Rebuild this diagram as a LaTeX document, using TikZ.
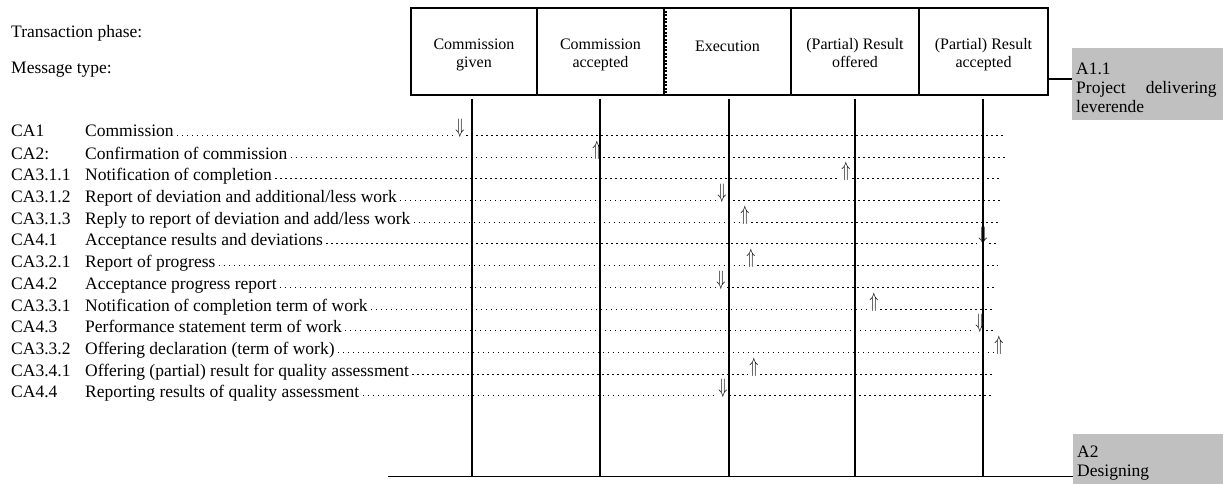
\documentclass[tikz,border=0pt]{standalone}
\usepackage{fontspec}
\setmainfont{Liberation Serif}
\usepackage{graphicx}
\usetikzlibrary{calc}
\definecolor{boxgray}{HTML}{C0C0C0}
\tikzset{
  rowtxt/.style={anchor=base west, inner sep=0pt, font=\fontsize{17.5}{21}\selectfont},
  boxtxt/.style={anchor=base, inner sep=0pt, font=\fontsize{16}{18}\selectfont},
  phasebox/.style={draw, line width=1.3pt, minimum height=87pt, inner sep=0pt},
  graybox/.style={fill=boxgray, inner sep=0pt, anchor=north west},
  graytxt/.style={anchor=base west, inner sep=0pt, font=\fontsize{17.5}{19}\selectfont},
  lifeline/.style={line width=1.4pt},
  leader/.style={line width=1.5pt, dash pattern=on 1.5pt off 3.5pt},
  arrtxt/.style={anchor=south, inner sep=0pt, font=\fontsize{19.5}{21}\selectfont},
}
% one message row: index, code, description, arrow symbol, arrow x, end of leader
\newcommand\msgrow[6]{%
  \pgfmathsetmacro\rowy{round(137+21.7*#1)}%
  \node[rowtxt] (lab#1) at (11,\rowy) {#2};
  \node[rowtxt] (msg#1) at (85,\rowy) {#3};
  \node[arrtxt] (arr#1) at (#5,{\rowy+0.5}) {\scalebox{0.72}[1]{$#4$}};
  \coordinate (dA#1) at ({#5-6},{\rowy-1.5});
  \coordinate (dB#1) at ({#5+6},{\rowy-1.5});
  \coordinate (dE#1) at (#6,{\rowy-1.5});
  \draw[leader] ([xshift=3pt,yshift=1.5pt]msg#1.base east) -- (dA#1);
  \ifdim #6pt>#5pt \draw[leader] (dB#1) -- (dE#1);\fi
}
\begin{document}
\begin{tikzpicture}[x=1pt,y=-1pt]
\useasboundingbox (0,0) rectangle (1223,484);

% header labels
\node[rowtxt] (tp) at (11,38) {Transaction phase:};
\node[rowtxt] (mt) at (11,74) {Message type:};

% transaction phase boxes
\node[phasebox, minimum width=126pt] (b1) at (474,51.5) {};
\node[phasebox, minimum width=127pt] (b2) at (600.5,51.5) {};
\node[phasebox, minimum width=127pt] (b3) at (727.5,51.5) {};
\node[phasebox, minimum width=128pt] (b4) at (855,51.5) {};
\node[phasebox, minimum width=129pt] (b5) at (983.5,51.5) {};
\draw[line width=2.5pt, dash pattern=on 2pt off 1.5pt]
  ([xshift=2pt]b3.north west) -- ([xshift=2pt]b3.south west);

\node[boxtxt] (t1a) at (474,50) {Commission};
\node[boxtxt] (t1b) at (474,68) {given};
\node[boxtxt] (t2a) at (600.5,50) {Commission};
\node[boxtxt] (t2b) at (600.5,68) {accepted};
\node[boxtxt] (t3a) at (727.5,52) {Execution};
\node[boxtxt] (t4a) at (855,50) {(Partial) Result};
\node[boxtxt] (t4b) at (855,68) {offered};
\node[boxtxt] (t5a) at (983.5,50) {(Partial) Result};
\node[boxtxt] (t5b) at (983.5,68) {accepted};

% actor boxes
\node[graybox, minimum width=151pt, minimum height=72pt] (g1) at (1072,48) {};
\node[graytxt] (g1a) at (1076,75) {A1.1};
\node[graytxt] (g1b) at (1076,94) {Project\hspace{20pt}delivering};
\node[graytxt] (g1c) at (1076,112.5) {leverende};
\path ($(b5.east)+(0,27.5)$) coordinate (c5);
\draw[line width=1.3pt] (c5) -- (c5 -| g1.west);

\node[graybox, minimum width=150pt, minimum height=50pt] (g2) at (1073,434) {};
\node[graytxt] (g2a) at (1077,457.5) {A2};
\node[graytxt] (g2b) at (1077,476) {Designing};

% base line and lifelines
\coordinate (bl) at (388,476.5);
\draw[line width=1.6pt] (bl) -- (bl -| g2.west);
\draw[lifeline] ([xshift=-2pt,yshift=-3pt]b1.south) -- ([xshift=-2pt]b1.south |- bl);
\draw[lifeline] ([xshift=-0.5pt,yshift=-3pt]b2.south) -- ([xshift=-0.5pt]b2.south |- bl);
\draw[lifeline] ([xshift=1.5pt,yshift=-3pt]b3.south) -- ([xshift=1.5pt]b3.south |- bl);
\draw[lifeline] ([yshift=-3pt]b4.south) -- (b4.south |- bl);
\draw[lifeline] ([xshift=-0.5pt,yshift=-3pt]b5.south) -- ([xshift=-0.5pt]b5.south |- bl);

% message rows
\msgrow{0}{CA1}{Commission}{\Downarrow}{460}{1005}
\msgrow{1}{CA2:}{Confirmation of commission}{\Uparrow}{597}{1005}
\msgrow{2}{CA3.1.1}{Notification of completion}{\Uparrow}{846}{1002}
\msgrow{3}{CA3.1.2}{Report of deviation and additional/less work}{\Downarrow}{722}{1002}
\msgrow{4}{CA3.1.3}{Reply to report of deviation and add/less work}{\Uparrow}{745}{1000}
\msgrow{5}{CA4.1}{Acceptance results and deviations}{\Downarrow}{983}{997}
\msgrow{6}{CA3.2.1}{Report of progress}{\Uparrow}{751}{998}
\msgrow{7}{CA4.2}{Acceptance progress report}{\Downarrow}{721}{997}
\msgrow{8}{CA3.3.1}{Notification of completion term of work}{\Uparrow}{874}{995}
\msgrow{9}{CA4.3}{Performance statement term of work}{\Downarrow}{980}{994}
\msgrow{10}{CA3.3.2}{Offering declaration (term of work)}{\Uparrow}{999}{992}
\msgrow{11}{CA3.4.1}{Offering (partial) result for quality assessment}{\Uparrow}{754}{994}
\msgrow{12}{CA4.4}{Reporting results of quality assessment}{\Downarrow}{723}{994}
\end{tikzpicture}
\end{document}
